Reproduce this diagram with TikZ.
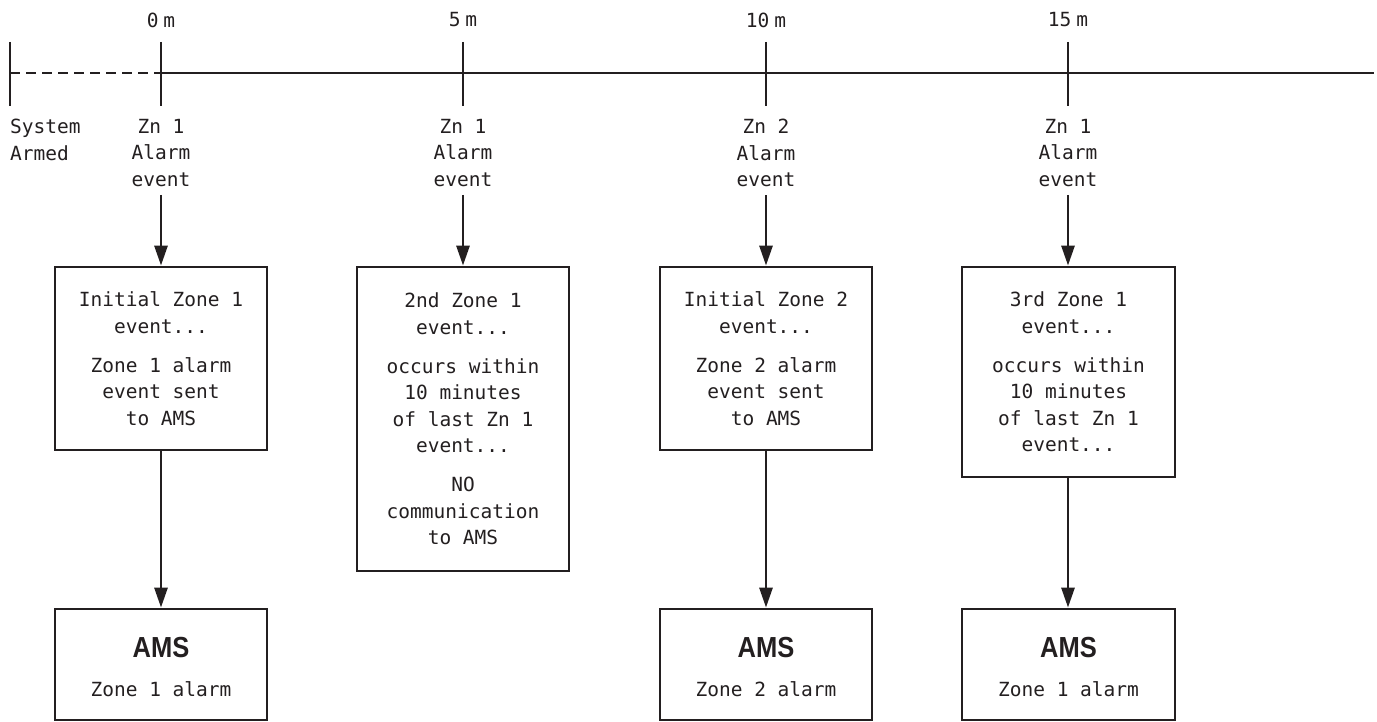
\documentclass[tikz,border=0pt]{standalone}
\usepackage{fontspec}
\setmainfont{DejaVu Sans Mono}
\newfontfamily\amsfont[FakeStretch=0.88]{Liberation Sans}
\usetikzlibrary{arrows.meta}
\definecolor{ink}{HTML}{231F20}
\begin{document}
\begin{tikzpicture}[x=1pt,y=-1pt,
  every node/.style={font=\fontsize{19.5}{26.5}\selectfont, text=ink, inner sep=0pt},
  box/.style={draw=ink, line width=2.8pt, minimum width=212pt, align=center},
  lbl/.style={align=center},
  arr/.style={draw=ink, line width=2.8pt, -{Triangle[length=20pt,width=13pt]}},
  tline/.style={draw=ink, line width=2.8pt},
  amstitle/.style={font=\amsfont\bfseries\fontsize{29}{30}\selectfont}
]
\useasboundingbox (0,0) rectangle (1377,722);
% timeline
\draw[tline, dash pattern=on 10pt off 6pt] (10,73) -- (161,73);
\draw[tline] (161,73) -- (1374,73);
\foreach \x in {10,161,463,766,1068} \draw[tline] (\x,42) -- (\x,106);
% top labels
\node (t0) at (161,20) {0\kern5pt m};
\node (t5) at (463,20) {5\kern5pt m};
\node (t10) at (766,20) {10\kern5pt m};
\node (t15) at (1068,20) {15\kern5pt m};
% event labels
\node[align=left, anchor=west] (sa) at (10,140) {System\\Armed};
\node[lbl] (z0) at (161,153) {Zn 1\\Alarm\\event};
\node[lbl] (z5) at (463,153) {Zn 1\\Alarm\\event};
\node[lbl] (z10) at (766,153) {Zn 2\\Alarm\\event};
\node[lbl] (z15) at (1068,153) {Zn 1\\Alarm\\event};
% boxes
\node[box, minimum height=183pt] (b1) at (161,358.5)
  {Initial Zone 1\\event...\\[12.5pt]Zone 1 alarm\\event sent\\to AMS};
\node[box, minimum height=304pt] (b2) at (463,419)
  {2nd Zone 1\\event...\\[12.5pt]occurs within\\10 minutes\\of last Zn 1\\event...\\[12.5pt]NO\\communication\\to AMS};
\node[box, minimum height=183pt] (b3) at (766,358.5)
  {Initial Zone 2\\event...\\[12.5pt]Zone 2 alarm\\event sent\\to AMS};
\node[box, minimum height=210pt, minimum width=213pt] (b4) at (1068.5,372)
  {3rd Zone 1\\event...\\[12.5pt]occurs within\\10 minutes\\of last Zn 1\\event...};
% AMS boxes
\node[box, minimum height=111pt] (a1) at (161,664.5) {};
\node[box, minimum height=111pt] (a3) at (766,664.5) {};
\node[box, minimum height=111pt, minimum width=213pt] (a4) at (1068.5,664.5) {};
\node[amstitle] (a1t) at (161,648) {AMS};
\node (a1s) at (161,689) {Zone 1 alarm};
\node[amstitle] (a3t) at (766,648) {AMS};
\node (a3s) at (766,689) {Zone 2 alarm};
\node[amstitle] (a4t) at (1068.5,648) {AMS};
\node (a4s) at (1068.5,689) {Zone 1 alarm};
% arrows
\draw[arr, shorten <=8pt] (z0) -- (b1);
\draw[arr, shorten <=8pt] (z5) -- (b2);
\draw[arr, shorten <=8pt] (z10) -- (b3);
\draw[arr, shorten <=8pt] (z15) -- (b4.north -| z15);
\draw[arr] (b1) -- (a1);
\draw[arr] (b3) -- (a3);
\draw[arr] (b4.south -| z15) -- (a4.north -| z15);
\end{tikzpicture}
\end{document}
